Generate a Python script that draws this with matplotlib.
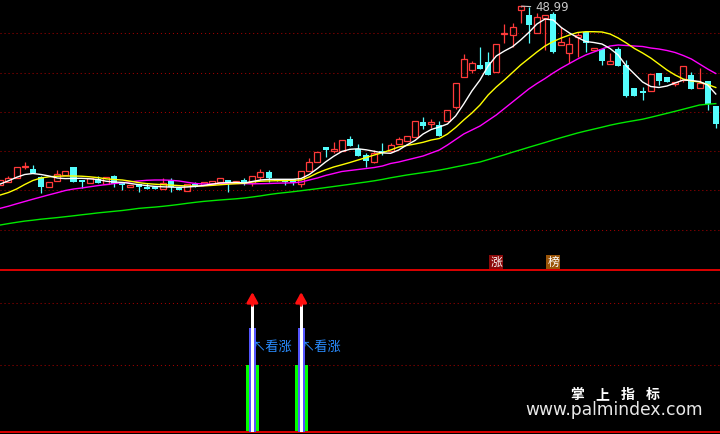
import matplotlib.pyplot as plt
import numpy as np

# daily candles (price)
opens = [31.10, 31.40, 31.80, 32.95, 32.70, 31.87, 30.90, 31.53, 32.10, 32.87,
         31.60, 31.33, 31.67, 31.23, 32.00, 31.40, 30.87, 31.23, 30.93, 30.90,
         30.73, 31.60, 30.83, 30.53, 31.17, 31.10, 31.20, 31.40, 31.60, 31.27,
         31.60, 31.27, 31.93, 32.40, 31.70, 31.73, 31.73, 31.20, 32.53, 33.43,
         34.93, 34.50, 34.53, 35.70, 34.73, 34.07, 33.43, 34.53, 34.50, 35.17,
         35.53, 35.93, 37.40, 37.17, 37.10, 37.53, 38.87, 41.87, 42.60, 43.07,
         43.43, 42.43, 46.20, 46.10, 48.62, 48.10, 46.27, 47.77, 48.20, 45.10,
         44.33, 45.93, 46.43, 44.60, 44.67, 43.17, 44.67, 43.10, 40.77, 40.53,
         40.53, 42.33, 41.87, 41.20, 41.60, 42.10, 40.77, 41.53, 39.00]
closes = [31.60, 31.80, 32.90, 33.05, 32.27, 30.93, 31.40, 32.20, 32.47, 31.43,
          31.43, 31.83, 31.27, 31.87, 31.23, 31.07, 31.10, 30.93, 30.73, 30.70,
          31.33, 30.93, 30.60, 31.17, 30.87, 31.43, 31.53, 31.77, 31.20, 31.50,
          31.33, 32.00, 32.43, 31.77, 31.50, 31.40, 31.33, 32.50, 33.40, 34.40,
          34.60, 34.70, 35.60, 35.03, 34.03, 33.50, 34.33, 34.40, 35.07, 35.67,
          35.97, 37.47, 37.03, 37.40, 36.03, 38.60, 41.27, 43.67, 43.27, 42.70,
          42.13, 45.20, 46.33, 46.87, 48.95, 47.10, 47.93, 48.10, 44.43, 45.37,
          45.20, 46.07, 45.33, 44.83, 43.53, 43.50, 43.03, 40.00, 40.00, 40.27,
          42.20, 41.53, 41.43, 41.43, 43.00, 40.67, 41.27, 39.20, 37.20]
highs = [31.60, 32.00, 32.90, 33.40, 33.10, 32.00, 31.40, 32.60, 32.47, 32.87,
         31.60, 31.83, 32.00, 31.87, 32.13, 31.40, 31.10, 31.23, 31.27, 30.90,
         31.77, 31.77, 30.83, 31.17, 31.43, 31.43, 31.53, 31.77, 31.60, 31.50,
         31.80, 32.00, 32.70, 32.60, 31.70, 31.73, 31.73, 32.50, 33.77, 34.40,
         34.93, 35.40, 35.60, 36.00, 35.20, 34.33, 34.60, 35.33, 35.27, 35.87,
         35.97, 37.47, 37.93, 37.70, 37.50, 38.60, 41.27, 44.20, 43.53, 44.87,
         44.43, 45.20, 47.20, 47.27, 48.99, 48.93, 48.27, 48.10, 48.43, 46.93,
         45.87, 46.43, 46.43, 44.83, 44.67, 44.27, 44.93, 43.60, 40.77, 40.87,
         42.20, 42.33, 41.87, 41.43, 43.00, 42.43, 42.77, 41.53, 39.00]
lows = [31.10, 31.40, 31.80, 32.70, 32.27, 30.27, 30.90, 31.53, 32.10, 31.43,
        30.83, 31.33, 31.27, 31.23, 30.93, 30.60, 30.87, 30.43, 30.67, 30.70,
        30.73, 30.43, 30.60, 30.53, 30.87, 31.10, 31.20, 31.40, 30.37, 31.27,
        31.10, 31.00, 31.60, 31.37, 31.50, 31.07, 31.10, 30.87, 32.53, 33.43,
        33.93, 34.27, 34.53, 35.03, 34.03, 32.93, 33.27, 34.10, 34.50, 35.17,
        35.53, 35.93, 36.67, 36.77, 36.03, 37.53, 38.67, 41.87, 42.33, 42.70,
        42.13, 42.43, 45.27, 44.93, 47.27, 45.27, 46.27, 44.60, 44.33, 45.10,
        43.33, 43.93, 44.43, 44.60, 43.10, 43.17, 43.03, 39.87, 40.00, 39.60,
        40.53, 41.10, 41.43, 41.00, 41.43, 40.67, 40.77, 38.60, 36.80]

# moving averages
ma5 = [31.20, 31.52, 31.87, 32.15, 32.25, 32.15, 32.00, 31.80, 31.74, 31.76,
       31.77, 31.72, 31.65, 31.48, 31.40, 31.36, 31.25, 31.14, 31.04, 30.96,
       30.92, 30.89, 30.87, 30.90, 30.96, 31.05, 31.18, 31.30, 31.34, 31.36,
       31.30, 31.45, 31.60, 31.67, 31.67, 31.67, 31.67, 31.75, 32.15, 32.75,
       33.40, 33.97, 34.45, 34.67, 34.72, 34.62, 34.47, 34.31, 34.27, 34.60,
       35.10, 35.55, 36.20, 36.65, 36.90, 37.20, 38.00, 39.20, 40.50, 41.60,
       43.00, 44.00, 44.50, 44.93, 45.60, 46.35, 47.20, 47.70, 47.60, 46.85,
       46.30, 45.85, 45.45, 45.35, 45.20, 44.75, 44.10, 43.00, 42.20, 41.40,
       40.95, 40.85, 41.00, 41.30, 41.60, 41.55, 41.45, 41.10, 40.20]
ma10 = [30.10, 30.35, 30.70, 31.15, 31.55, 31.80, 31.92, 31.98, 32.00, 32.00,
        31.98, 31.92, 31.84, 31.72, 31.65, 31.60, 31.48, 31.34, 31.24, 31.18,
        31.13, 31.09, 31.04, 31.00, 31.00, 31.01, 31.06, 31.12, 31.18, 31.23,
        31.27, 31.40, 31.48, 31.51, 31.53, 31.54, 31.57, 31.60, 31.90, 32.30,
        32.62, 32.90, 33.12, 33.35, 33.60, 33.85, 34.10, 34.33, 34.60, 34.90,
        35.05, 35.20, 35.37, 35.60, 35.75, 36.20, 36.85, 37.60, 38.30, 39.10,
        40.10, 40.90, 41.60, 42.35, 43.10, 43.75, 44.40, 45.00, 45.45, 45.80,
        46.10, 46.35, 46.43, 46.43, 46.40, 46.20, 45.80, 45.30, 44.75, 44.30,
        43.80, 43.20, 42.60, 42.10, 41.70, 41.50, 41.40, 41.15, 40.85]
ma20 = [28.77, 28.98, 29.22, 29.45, 29.68, 29.90, 30.12, 30.33, 30.55, 30.70,
        30.80, 30.92, 31.04, 31.14, 31.24, 31.33, 31.42, 31.50, 31.57, 31.60,
        31.60, 31.57, 31.50, 31.37, 31.25, 31.20, 31.20, 31.22, 31.25, 31.26,
        31.24, 31.22, 31.23, 31.25, 31.28, 31.30, 31.32, 31.40, 31.60, 31.80,
        32.05, 32.25, 32.45, 32.55, 32.65, 32.75, 32.85, 33.00, 33.25, 33.40,
        33.60, 33.80, 34.00, 34.30, 34.60, 35.10, 35.65, 36.20, 36.60, 37.00,
        37.55, 38.10, 38.75, 39.40, 40.05, 40.70, 41.25, 41.75, 42.30, 42.80,
        43.25, 43.70, 44.10, 44.40, 44.70, 45.00, 45.10, 45.05, 45.00, 44.95,
        44.80, 44.70, 44.55, 44.35, 44.05, 43.70, 43.20, 42.70, 42.25]
ma60 = [27.10, 27.24, 27.37, 27.49, 27.58, 27.68, 27.76, 27.84, 27.93, 28.02,
        28.12, 28.21, 28.31, 28.39, 28.47, 28.55, 28.65, 28.76, 28.83, 28.89,
        28.97, 29.06, 29.16, 29.27, 29.37, 29.46, 29.53, 29.60, 29.66, 29.72,
        29.80, 29.90, 30.01, 30.14, 30.25, 30.34, 30.43, 30.53, 30.63, 30.73,
        30.84, 30.95, 31.06, 31.17, 31.29, 31.40, 31.52, 31.66, 31.82, 31.96,
        32.10, 32.22, 32.34, 32.46, 32.59, 32.74, 32.91, 33.07, 33.24, 33.40,
        33.64, 33.88, 34.12, 34.38, 34.62, 34.87, 35.11, 35.35, 35.60, 35.84,
        36.07, 36.30, 36.50, 36.69, 36.88, 37.08, 37.25, 37.40, 37.54, 37.68,
        37.87, 38.07, 38.27, 38.47, 38.68, 38.89, 39.10, 39.18, 39.24]

grid_top = [46.30, 42.33, 38.40, 34.50, 30.60, 26.60]

# lower indicator panel
signal_idx = [31, 37]
sig_green = [41.4, 41.4]
sig_blue = [64.2, 64.2]
sig_white = [79.6, 79.6]
sig_tip = [86.4, 86.4]
grid_bot = [79.6, 41.4]

tag_idx = [61, 68]
tag_text = ['涨', '榜']
tag_color = ['#8b0a0a', '#9a5408']

RED = '#ff3a3a'
CYAN = '#54fcfc'
GRID = '#a00000'
CJK = ['Noto Sans CJK SC', 'DejaVu Sans']

fig = plt.figure(figsize=(7.2, 4.34), dpi=100, facecolor='black')
ax = fig.add_axes([0, 164 / 434, 1, 270 / 434])
ax2 = fig.add_axes([0, 2 / 434, 1, 162 / 434])

n = len(opens)
x = np.arange(n)
for a in (ax, ax2):
    a.patch.set_visible(False)
    a.set_xlim(-0.04, 88.52)
    a.set_xticks([])
    a.set_yticks([])
    for s in a.spines.values():
        s.set_visible(False)
    a.spines['bottom'].set_visible(True)
    a.spines['bottom'].set_color('#dd0000')
    a.spines['bottom'].set_linewidth(1.4)
ax.set_ylim(22.6, 49.6)
ax2.set_ylim(0, 100)

for lv in grid_top:
    ax.axhline(lv, color=GRID, lw=0.75, dashes=(1, 2.85), zorder=1)
for lv in grid_bot:
    ax2.axhline(lv, color=GRID, lw=0.75, dashes=(1, 2.85), zorder=1)

# candles
bw = 0.74
for i in range(n):
    o, c, h, l = opens[i], closes[i], highs[i], lows[i]
    if c >= o:
        ax.vlines(i, c, h, color=RED, lw=0.9, zorder=2)
        ax.vlines(i, l, o, color=RED, lw=0.9, zorder=2)
        ax.bar(i, max(c - o, 0.05), bottom=o, width=bw, fill=False,
               edgecolor=RED, linewidth=0.9, zorder=2)
    else:
        ax.vlines(i, l, h, color=CYAN, lw=0.9, zorder=2)
        ax.bar(i, o - c, bottom=c, width=bw, color=CYAN, linewidth=0, zorder=2)

ax.plot(x, ma60, color='#00e800', lw=1, zorder=3)
ax.plot(x, ma20, color='#ff00ff', lw=1, zorder=3)
ax.plot(x, ma10, color='#ffff00', lw=1, zorder=3)
ax.plot(x, ma5, color='white', lw=1, zorder=3)

top = int(np.argmax(highs))
ax.annotate('%.2f' % highs[top], xy=(top + 0.1, highs[top]), xytext=(top + 1.75, 48.83),
            color='#c8c8c8', fontsize=8.5, va='center', ha='left',
            arrowprops=dict(arrowstyle='-', color='#c8c8c8', lw=0.8, shrinkA=1, shrinkB=0))

for i, t, col in zip(tag_idx, tag_text, tag_color):
    ax.text(i, 23.4, t, ha='center', va='center', color='white', fontsize=8.5,
            family=CJK, zorder=5,
            bbox=dict(boxstyle='square,pad=0.08', fc=col, ec='none'))

# signal bars
ax2.bar(signal_idx, sig_green, width=1.6, color='#00ff00', zorder=2)
ax2.bar(signal_idx, sig_blue, width=0.86, color='#5555ff', zorder=3)
ax2.bar(signal_idx, sig_white, width=0.37, color='white', zorder=4)
for i, base, tip in zip(signal_idx, sig_white, sig_tip):
    ax2.annotate('', xy=(i, tip), xytext=(i, base - 1.5),
                 arrowprops=dict(arrowstyle='-|>,head_length=1.0,head_width=0.55',
                                 color='#ff1010', lw=2.0, mutation_scale=6,
                                 shrinkA=0, shrinkB=0), zorder=5)
    ax2.text(i + 0.05, 52, '↖看涨', color='#2a8cff', fontsize=9.5, family=CJK,
             va='center', ha='left', zorder=6)

# watermark
for ch, px in zip('掌上指标', [577, 602, 628, 652.5]):
    fig.text(px / 720, 1 - 395 / 434, ch, color='white', fontsize=10,
             fontweight='bold', family=CJK, ha='center', va='center')
fig.text(614.5 / 720, 1 - 410 / 434, 'www.palmindex.com', color='#e8e8e8',
         fontsize=12.3, ha='center', va='center')

fig.savefig('out.png', dpi=100, facecolor='black')
